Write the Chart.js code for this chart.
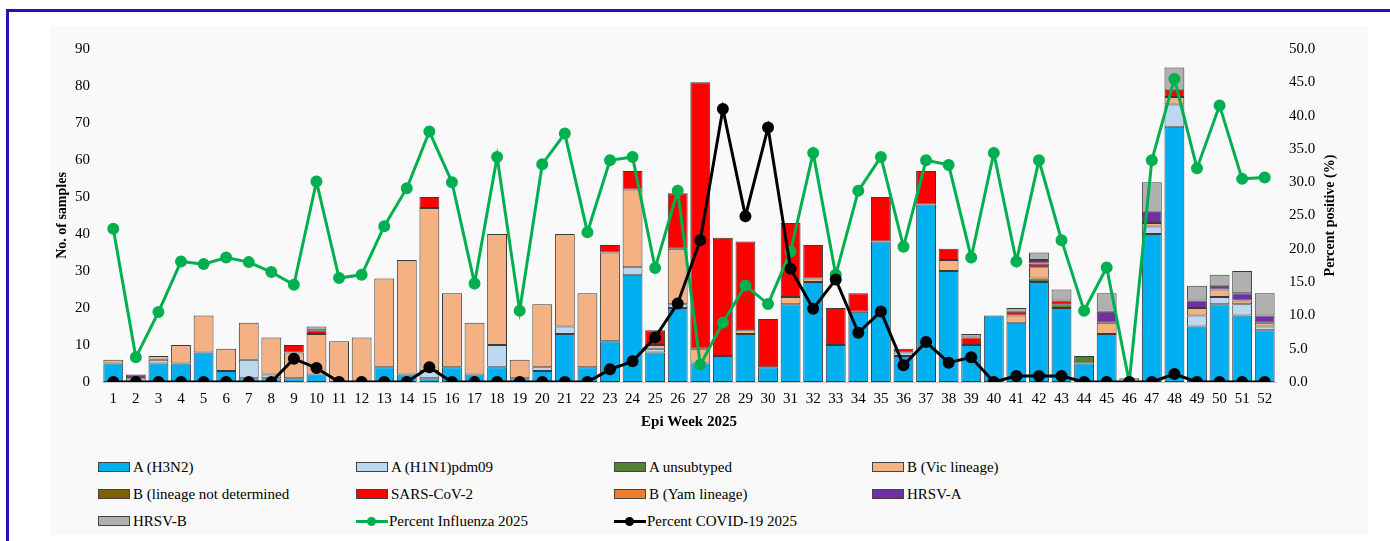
<!DOCTYPE html>
<html>
<head>
<meta charset="utf-8">
<script src="https://cdn.jsdelivr.net/npm/chart.js@4"></script>
<style>
    html, body { margin: 0; padding: 0; background: #fff; }
    body { width: 1390px; height: 541px; position: relative; overflow: hidden; font-family: "Liberation Serif", "Times New Roman", serif; }
    #frame { position: absolute; left: 6px; top: 9px; width: 1400px; height: 600px; border-top: 3px solid #2214b4; border-left: 3px solid #2214b4; }
    #panel { position: absolute; left: 50px; top: 27px; width: 1318px; height: 508px; background: #f9f9f9; }
    #wrap { position: absolute; left: 50px; top: 27px; width: 1318px; height: 413px; }
    #legend { position: absolute; left: 98px; top: 458px; display: grid; grid-template-columns: repeat(4, 258px); grid-auto-rows: 27px; font-size: 15px; color: #000; }
    .item { display: flex; align-items: center; height: 18px; white-space: nowrap; }
    .box { width: 30px; height: 8px; border: 1px solid #444; margin-right: 3px; }
    .ln { width: 32px; height: 3px; margin-right: 1px; position: relative; }
    .ln span { position: absolute; left: 11px; top: -3px; width: 9px; height: 9px; border-radius: 50%; }
</style>
</head>
<body>
<div id="frame"></div>
<div id="panel"></div>
<div id="wrap"><canvas id="chart"></canvas></div>
<div id="legend"></div>
<script>
const weeks = ['1','2','3','4','5','6','7','8','9','10','11','12','13','14','15','16','17','18','19','20','21','22','23','24','25','26',
    '27','28','29','30','31','32','33','34','35','36','37','38','39','40','41','42','43','44','45','46','47','48','49','50','51','52'];

const h3n2 = [5,0,5,5,8,3,1,1,1,2, 0,0,4,2,1,4,2,4,1,3, 13,4,11,29,8,20,5,7,13,4, 21,27,10,19,38,7,48,30,10,18, 16,27,20,5,13,0,40,69,15,21, 18,14];
const h1n1 = [0,0,1,0,0,0,5,1,0,0, 0,0,0,0,2,0,0,6,0,1, 2,0,0,2,1,1,0,0,0,0, 0,0,0,0,0,1,0,0,0,0, 0,0,0,0,0,0,2,6,3,2, 3,1];
const aUnsub = [0,0,0,0,0,0,0,0,0,0, 0,0,0,0,0,0,0,0,0,0, 0,0,0,0,0,0,0,0,0,0, 0,0,0,0,0,0,0,0,0,0, 0,1,1,2,0,0,0,0,0,0, 0,0];
const bVic = [1,1,1,5,10,6,10,10,7,11, 11,12,24,31,44,20,14,30,5,17, 25,20,24,21,1,15,4,0,1,0, 2,1,0,0,0,0,0,3,0,0, 2,3,0,0,3,0,1,2,2,2, 1,1];
const bNd = [0,0,0,0,0,0,0,0,0,0, 0,0,0,0,0,0,0,0,0,0, 0,0,0,0,0,0,0,0,0,0, 0,0,0,0,0,0,0,0,0,0, 0,0,0,0,0,0,0,0,0,0, 0,0];
const sars = [0,0,0,0,0,0,0,0,2,1, 0,0,0,0,3,0,0,0,0,0, 0,0,2,5,4,15,72,32,24,13, 20,9,10,5,12,1,9,3,2,0, 1,1,1,0,0,0,0,2,0,0, 0,0];
const bYam = [0,0,0,0,0,0,0,0,0,0, 0,0,0,0,0,0,0,0,0,0, 0,0,0,0,0,0,0,0,0,0, 0,0,0,0,0,0,0,0,0,0, 0,0,0,0,0,0,0,0,0,0, 0,0];
const hrsvA = [0,1,0,0,0,0,0,0,0,0, 0,0,0,0,0,0,0,0,0,0, 0,0,0,0,0,0,0,0,0,0, 0,0,0,0,0,0,0,0,0,0, 0,1,0,0,3,0,3,0,2,1, 2,2];
const hrsvB = [0,0,0,0,0,0,0,0,0,1, 0,0,0,0,0,0,0,0,0,0, 0,0,0,0,0,0,0,0,0,0, 0,0,0,0,0,0,0,0,1,0, 1,2,3,0,5,1,8,6,4,3, 6,6];

const pctFlu = [23.0,3.7,10.5,18.1,17.7,18.7,18.0,16.5,14.6,30.1, 15.6,16.1,23.4,29.1,37.6,30.0,14.8,33.8,10.7,32.7,
    37.3,22.5,33.3,33.8,17.1,28.7,2.6,8.9,14.5,11.7, 19.6,34.4,16.1,28.7,33.8,20.3,33.3,32.6,18.7,34.4,
    18.1,33.3,21.3,10.7,17.2,0,33.3,45.5,32.1,41.5, 30.5,30.7];
const pctCovid = [0,0,0,0,0,0,0,0,3.5,2.1, 0,0,0,0,2.2,0,0,0,0,0, 0,0,1.9,3.1,6.7,11.8,21.3,41.0,24.9,38.2,
    17.0,11.0,15.4,7.4,10.6,2.5,6.0,2.9,3.7,0, 0.9,0.9,0.9,0,0,0,0,1.2,0,0, 0,0];

const font = '"Liberation Serif", "Times New Roman", serif';

const barSeries = [
    ['A (H3N2)', h3n2, '#00b0f0'],
    ['A (H1N1)pdm09', h1n1, '#bdd7ee'],
    ['A unsubtyped', aUnsub, '#548235'],
    ['B (Vic lineage)', bVic, '#f4b183'],
    ['B (lineage not determined', bNd, '#7f6000'],
    ['SARS-CoV-2', sars, '#ff0000'],
    ['B (Yam lineage)', bYam, '#ed7d31'],
    ['HRSV-A', hrsvA, '#7030a0'],
    ['HRSV-B', hrsvB, '#b0b0b0'],
];

const datasets = barSeries.map(([label, data, color]) => ({
    type: 'bar',
    label: label,
    data: data,
    backgroundColor: color,
    borderColor: '#3a3a3a',
    borderWidth: ctx => (ctx.raw ? 1 : 0),
    borderSkipped: false,
    yAxisID: 'y',
    stack: 's',
    order: 2,
    barPercentage: 0.88,
    categoryPercentage: 1,
}));

datasets.push({
    type: 'line',
    label: 'Percent Influenza 2025',
    data: pctFlu,
    borderColor: '#00b050',
    backgroundColor: '#00b050',
    borderWidth: 3,
    pointRadius: 4.5,
    tension: 0,
    yAxisID: 'y1',
    order: 1,
});
datasets.push({
    type: 'line',
    label: 'Percent COVID-19 2025',
    data: pctCovid,
    borderColor: '#000000',
    backgroundColor: '#000000',
    borderWidth: 3,
    pointRadius: 4.5,
    tension: 0,
    yAxisID: 'y1',
    order: 0,
});

// right axis title reads bottom to top, like the left one
const rightTitle = {
    id: 'rightTitle',
    afterDraw(chart) {
        const { ctx, chartArea } = chart;
        ctx.save();
        ctx.translate(1280, (chartArea.top + chartArea.bottom) / 2);
        ctx.rotate(-Math.PI / 2);
        ctx.font = 'bold 14px ' + font;
        ctx.fillStyle = '#000';
        ctx.textAlign = 'center';
        ctx.textBaseline = 'middle';
        ctx.fillText('Percent positive (%)', 0, 0);
        ctx.restore();
    },
};

function draw() {
    const chart = new Chart(document.getElementById('chart'), {
        data: { labels: weeks, datasets: datasets },
        plugins: [rightTitle],
        options: {
            responsive: true,
            maintainAspectRatio: false,
            animation: false,
            layout: { padding: { top: 13, left: 0, right: 0, bottom: 0 } },
            plugins: {
                legend: { display: false },
                tooltip: { enabled: false },
            },
            scales: {
                x: {
                    stacked: true,
                    grid: { display: false, drawTicks: false },
                    border: { display: true, color: '#c8c8c8' },
                    ticks: { color: '#000', font: { family: font, size: 15 }, autoSkip: false, maxRotation: 0, padding: 8 },
                    title: { display: true, text: 'Epi Week 2025', color: '#000', font: { family: font, size: 15, weight: 'bold' }, padding: { top: 0, bottom: 9 } },
                    afterFit: s => { s.height = 58; },
                },
                y: {
                    position: 'left',
                    stacked: true,
                    min: 0,
                    max: 90,
                    grid: { display: false, drawTicks: false },
                    border: { display: false },
                    ticks: { stepSize: 10, color: '#000', font: { family: font, size: 15 }, padding: 12 },
                    title: { display: true, text: 'No. of samples', color: '#000', font: { family: font, size: 14, weight: 'bold' }, padding: { top: 4, bottom: 0 } },
                    afterFit: s => { s.width = 52; },
                },
                y1: {
                    position: 'right',
                    stacked: false,
                    min: 0,
                    max: 50,
                    grid: { display: false, drawTicks: false },
                    border: { display: false },
                    ticks: { stepSize: 5, color: '#000', font: { family: font, size: 15 }, padding: 13, callback: v => v.toFixed(1) },
                    afterFit: s => { s.width = 92; },
                },
            },
        },
    });

    // legend laid out as a 4 column grid, built from the chart datasets
    const legend = document.getElementById('legend');
    chart.data.datasets.forEach(ds => {
        const item = document.createElement('div');
        item.className = 'item';
        if (ds.type === 'bar') {
            item.innerHTML = '<div class="box" style="background:' + ds.backgroundColor + '"></div>' + ds.label;
        } else {
            item.innerHTML = '<div class="ln" style="background:' + ds.borderColor + '"><span style="background:' + ds.borderColor + '"></span></div>' + ds.label;
        }
        legend.appendChild(item);
    });
}

Promise.all([
    document.fonts.load('15px "Liberation Serif"'),
    document.fonts.load('bold 15px "Liberation Serif"'),
]).then(draw, draw);
</script>
</body>
</html>
